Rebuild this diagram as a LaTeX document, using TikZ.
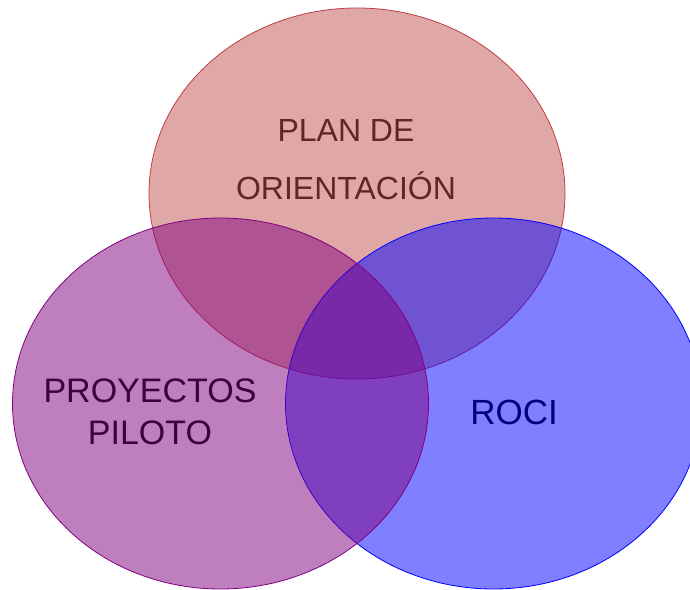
\documentclass[tikz,border=0pt]{standalone}
\usepackage{fontspec}
\setmainfont{Liberation Sans}
\usetikzlibrary{shapes.geometric}
\definecolor{topfill}{RGB}{192,80,77}
\definecolor{topline}{RGB}{192,60,70}
\definecolor{toptext}{RGB}{99,37,35}
\definecolor{leftfill}{RGB}{128,0,128}
\definecolor{lefttext}{RGB}{64,0,64}
\definecolor{rightfill}{RGB}{0,0,255}
\definecolor{righttext}{RGB}{0,0,128}
\begin{document}
\begin{tikzpicture}[x=1pt,y=1pt,
  venn/.style={ellipse, minimum width=416pt, minimum height=371pt, inner sep=0pt, line width=0.8pt, fill opacity=0.5, draw opacity=1},
  lbl/.style={anchor=base, inner sep=0pt}]
\useasboundingbox (0,0) rectangle (690,589);
\node[venn, fill=topfill, draw=topline] (plan) at (357,395.5) {};
\node[venn, fill=rightfill, draw=rightfill] (roci) at (493.5,185.5) {};
\node[venn, fill=leftfill, draw=leftfill] (proy) at (220.5,185.5) {};
\node[lbl, text=toptext, font=\fontsize{32}{38}\selectfont] (t1) at (346,447) {PLAN DE};
\node[lbl, text=toptext, font=\fontsize{32}{38}\selectfont] (t2) at (346,389) {ORIENTACIÓN};
\node[lbl, text=lefttext, font=\fontsize{34}{40}\selectfont] (l1) at (150,186) {PROYECTOS};
\node[lbl, text=lefttext, font=\fontsize{34}{40}\selectfont] (l2) at (150,144) {PILOTO};
\node[lbl, text=righttext, font=\fontsize{35}{40}\selectfont] (r1) at (514,164) {ROCI};
\end{tikzpicture}
\end{document}
